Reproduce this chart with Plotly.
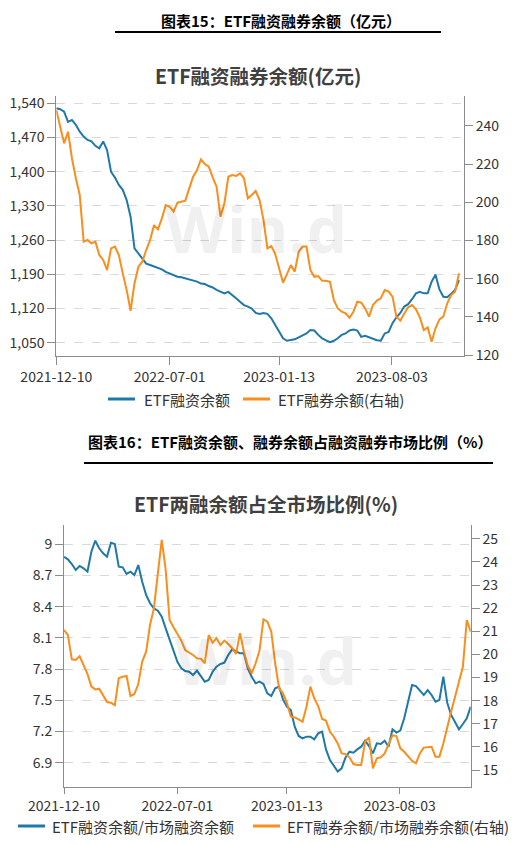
import pandas as pd
import plotly.graph_objects as go

###
### Данные (недельные точки)
###
dates = pd.date_range("2021-12-10", periods=105, freq="7D")

# график 1: ETF融资余额 (левая ось, 亿元)
fin_bal = [1530, 1528, 1523, 1502, 1506, 1496, 1482, 1472, 1465, 1462,
           1453, 1448, 1462, 1444, 1400, 1388, 1373, 1363, 1342, 1308,
           1243, 1232, 1221, 1212, 1209, 1206, 1204, 1200, 1195, 1192,
           1188, 1185, 1184, 1182, 1180, 1177, 1175, 1171, 1170, 1166,
           1163, 1158, 1154, 1151, 1154, 1148, 1141, 1134, 1127, 1124,
           1120, 1111, 1109, 1111, 1109, 1100, 1086, 1075, 1059, 1054,
           1055, 1057, 1061, 1065, 1069, 1076, 1075, 1066, 1059, 1055,
           1051, 1054, 1059, 1066, 1069, 1075, 1077, 1075, 1062, 1064,
           1061, 1059, 1055, 1054, 1069, 1072, 1090, 1102, 1111, 1124,
           1129, 1139, 1151, 1154, 1151, 1151, 1175, 1189, 1159, 1144,
           1143, 1150, 1158, 1178]

# график 1: ETF融券余额 (правая ось)
sec_bal = [248.4, 239.7, 230.9, 237.0, 223.1, 212.6, 203.8, 179.4, 180.3, 178.5,
           179.4, 172.4, 169.8, 164.5, 175.9, 176.8, 172.4, 162.8, 154.0, 143.2,
           157.5, 166.3, 168.9, 175.0, 180.3, 188.1, 185.8, 191.6, 198.6, 197.7,
           195.1, 199.8, 200.3, 200.9, 207.3, 213.4, 216.9, 222.5, 220.1, 218.7,
           213.1, 208.2, 192.5, 199.5, 213.4, 214.3, 213.8, 215.2, 212.6, 202.1,
           203.8, 205.9, 201.2, 190.7, 175.9, 177.1, 172.9, 165.4, 157.9, 162.4,
           167.1, 163.7, 174.1, 176.8, 176.8, 164.5, 161.0, 161.4, 158.9, 158.9,
           158.4, 148.8, 144.4, 142.7, 141.8, 139.5, 142.7, 147.9, 147.4, 144.4,
           140.1, 146.2, 148.5, 149.7, 154.0, 153.2, 150.6, 140.1, 138.0, 141.8,
           145.0, 146.2, 143.9, 139.7, 133.1, 134.5, 127.0, 134.0, 138.7, 140.1,
           147.1, 151.4, 153.2, 162.8]

# график 2: ETF融资余额/市场融资余额 (левая ось, %)
fin_ratio = [8.881, 8.856, 8.811, 8.753, 8.792, 8.769, 8.737, 8.929, 9.035, 8.962,
             8.913, 8.881, 9.016, 9.003, 8.785, 8.779, 8.715, 8.737, 8.705, 8.801,
             8.641, 8.513, 8.433, 8.384, 8.362, 8.304, 8.192, 8.086, 7.977, 7.871,
             7.807, 7.782, 7.775, 7.743, 7.785, 7.727, 7.679, 7.695, 7.775, 7.823,
             7.849, 7.862, 7.936, 7.990, 7.968, 7.952, 7.952, 7.807, 7.727, 7.663,
             7.679, 7.657, 7.567, 7.541, 7.615, 7.631, 7.509, 7.439, 7.407, 7.246,
             7.157, 7.134, 7.150, 7.150, 7.125, 7.182, 7.198, 7.028, 6.926, 6.868,
             6.814, 6.846, 6.951, 7.006, 6.996, 7.028, 7.054, 7.112, 7.060, 6.990,
             7.086, 7.080, 7.112, 7.054, 7.221, 7.189, 7.208, 7.327, 7.503, 7.647,
             7.637, 7.593, 7.551, 7.599, 7.551, 7.487, 7.503, 7.727, 7.477, 7.359,
             7.285, 7.221, 7.272, 7.327, 7.439]

# график 2: EFT融券余额/市场融券余额 (правая ось, %)
sec_ratio = [21.06, 20.84, 19.79, 19.76, 19.92, 19.55, 19.16, 18.61, 18.49, 18.52,
             18.25, 17.94, 17.91, 17.81, 18.97, 19.04, 19.07, 18.20, 18.29, 18.72,
             19.69, 20.12, 21.28, 22.00, 23.51, 24.96, 23.66, 21.49, 21.18, 20.89,
             20.60, 20.19, 20.08, 19.98, 19.83, 19.82, 19.62, 20.84, 20.51, 20.70,
             20.41, 20.60, 20.45, 20.27, 20.02, 20.92, 20.12, 19.50, 19.18, 19.62,
             20.17, 21.52, 21.42, 20.99, 19.62, 18.54, 18.32, 17.91, 17.31, 17.28,
             17.19, 17.09, 17.74, 18.61, 18.10, 17.77, 17.21, 17.14, 16.66, 16.44,
             16.15, 15.72, 15.69, 15.55, 15.26, 15.22, 15.22, 16.23, 16.41, 15.07,
             15.51, 15.55, 15.72, 16.13, 16.50, 16.47, 15.94, 15.79, 15.61, 15.40,
             15.29, 15.72, 15.97, 15.98, 16.01, 15.58, 15.58, 16.15, 16.88, 17.53,
             18.17, 18.82, 19.47, 21.49, 20.99]

x_ticks = ["2021-12-10", "2022-07-01", "2023-01-13", "2023-08-03"]

y1_ticks = [1050, 1120, 1190, 1260, 1330, 1400, 1470, 1540]
y2_ticks = [120, 140, 160, 180, 200, 220, 240]
y3_ticks = [6.9, 7.2, 7.5, 7.8, 8.1, 8.4, 8.7, 9]
y3_text = ["6.9", "7.2", "7.5", "7.8", "8.1", "8.4", "8.7", "9"]
y4_ticks = [15, 16, 17, 18, 19, 20, 21, 22, 23, 24, 25]

BLUE = "#1f78aa"
ORANGE = "#f98e1d"
FONT = "Noto Sans CJK SC"

# страница добавляет отступ 8px вокруг графика
OFF = 8
W, H = 510, 829


def px_x(v):
    return (v - OFF) / W


def px_y(v):
    return 1 - (v - OFF) / H


fig = go.Figure()

# График 1
fig.add_trace(go.Scatter(x=dates[:len(fin_bal)], y=fin_bal, name="ETF融资余额",
                         mode="lines", line=dict(color=BLUE, width=2),
                         xaxis="x", yaxis="y"))
fig.add_trace(go.Scatter(x=dates[:len(sec_bal)], y=sec_bal, name="ETF融券余额(右轴)",
                         mode="lines", line=dict(color=ORANGE, width=2),
                         xaxis="x", yaxis="y2"))

# График 2
fig.add_trace(go.Scatter(x=dates, y=fin_ratio, name="ETF融资余额/市场融资余额",
                         mode="lines", line=dict(color=BLUE, width=2),
                         xaxis="x2", yaxis="y3"))
fig.add_trace(go.Scatter(x=dates, y=sec_ratio, name="EFT融券余额/市场融券余额(右轴)",
                         mode="lines", line=dict(color=ORANGE, width=2),
                         xaxis="x2", yaxis="y4"))

axis_common = dict(showline=True, linecolor="#8c8c8c", linewidth=1,
                   ticks="outside", ticklen=8, tickcolor="#8c8c8c",
                   tickfont=dict(size=14, color="#333333", family=FONT),
                   zeroline=False, automargin=False)
xaxis_common = dict(axis_common, ticklen=8, showgrid=False, type="date",
                    tickvals=x_ticks, ticktext=x_ticks)

x1_dom = [px_x(56.3), px_x(464)]
y1_dom = [px_y(356), px_y(96)]
x2_dom = [px_x(64), px_x(470.7)]
y2_dom = [px_y(786.7), px_y(525)]

fig.update_layout(
    width=W, height=H, autosize=False,
    margin=dict(l=0, r=0, t=0, b=0, autoexpand=False),
    paper_bgcolor="white", plot_bgcolor="white",
    font=dict(family=FONT, color="#333333"),
    showlegend=False,
    xaxis=dict(xaxis_common, domain=x1_dom, anchor="y",
               range=["2021-12-10", "2023-12-10"]),
    yaxis=dict(axis_common, domain=y1_dom, anchor="x", range=[1022.8, 1555],
               tickvals=y1_ticks, tickformat=",", showgrid=True,
               gridcolor="#d9d9d9", griddash="dash"),
    yaxis2=dict(axis_common, overlaying="y", side="right", anchor="x",
                range=[119.5, 255.7], tickvals=y2_ticks, showgrid=False),
    xaxis2=dict(xaxis_common, domain=x2_dom, anchor="y3", ticklen=6,
                range=["2021-12-10", "2023-12-08"]),
    yaxis3=dict(axis_common, domain=y2_dom, anchor="x2", range=[6.669, 9.186],
                tickvals=y3_ticks, ticktext=y3_text, showgrid=True,
                gridcolor="#d9d9d9", griddash="dash"),
    yaxis4=dict(axis_common, overlaying="y3", side="right", anchor="x2",
                range=[14.28, 25.6], tickvals=y4_ticks, showgrid=False),
)

# Заголовки, водяные знаки, легенды
annotations = [
    dict(text="<b>图表15：ETF融资融券余额（亿元）</b>", x=px_x(281), y=1,
         yanchor="top", font=dict(size=15, color="#000000")),
    dict(text="<b>图表16：ETF融资余额、融券余额占融资融券市场比例（%）</b>", x=px_x(290),
         y=px_y(441), font=dict(size=15, color="#000000")),
    dict(text="<b>ETF融资融券余额(亿元)</b>", x=px_x(258), y=px_y(75),
         font=dict(size=19.5, color="#404040")),
    dict(text="<b>ETF两融余额占全市场比例(%)</b>", x=px_x(266), y=px_y(503),
         font=dict(size=19.5, color="#404040")),
    dict(text="<b>Win.d</b>", x=px_x(256), y=px_y(228),
         font=dict(size=64, color="rgba(0,0,0,0.06)", family="Open Sans")),
    dict(text="<b>Win.d</b>", x=px_x(266), y=px_y(660),
         font=dict(size=64, color="rgba(0,0,0,0.06)", family="Open Sans")),
]
for a in annotations:
    a.update(xanchor="center")

# легенды: (x линии, x текста, y, текст, цвет)
legend_items = [
    (108, 142, 399, "ETF融资余额", BLUE),
    (243, 276, 399, "ETF融券余额(右轴)", ORANGE),
    (18, 50, 826, "ETF融资余额/市场融资余额", BLUE),
    (253, 285, 826, "EFT融券余额/市场融券余额(右轴)", ORANGE),
]
shapes = [
    dict(type="line", xref="paper", yref="paper", x0=px_x(115), x1=px_x(441),
         y0=px_y(32), y1=px_y(32), line=dict(color="#000000", width=2)),
    dict(type="line", xref="paper", yref="paper", x0=px_x(84), x1=px_x(493),
         y0=px_y(463), y1=px_y(463), line=dict(color="#000000", width=2)),
]
for lx, tx, ly, txt, col in legend_items:
    shapes.append(dict(type="line", xref="paper", yref="paper",
                       x0=px_x(lx), x1=px_x(lx + 27), y0=px_y(ly), y1=px_y(ly),
                       line=dict(color=col, width=3)))
    annotations.append(dict(text=txt, x=px_x(tx), y=px_y(ly), xanchor="left",
                            font=dict(size=15, color="#333333")))

for a in annotations:
    a.setdefault("yanchor", "middle")
    a.update(xref="paper", yref="paper", showarrow=False)
    a["font"].setdefault("family", FONT)

fig.update_layout(annotations=annotations, shapes=shapes)

fig.write_html("out.html")
